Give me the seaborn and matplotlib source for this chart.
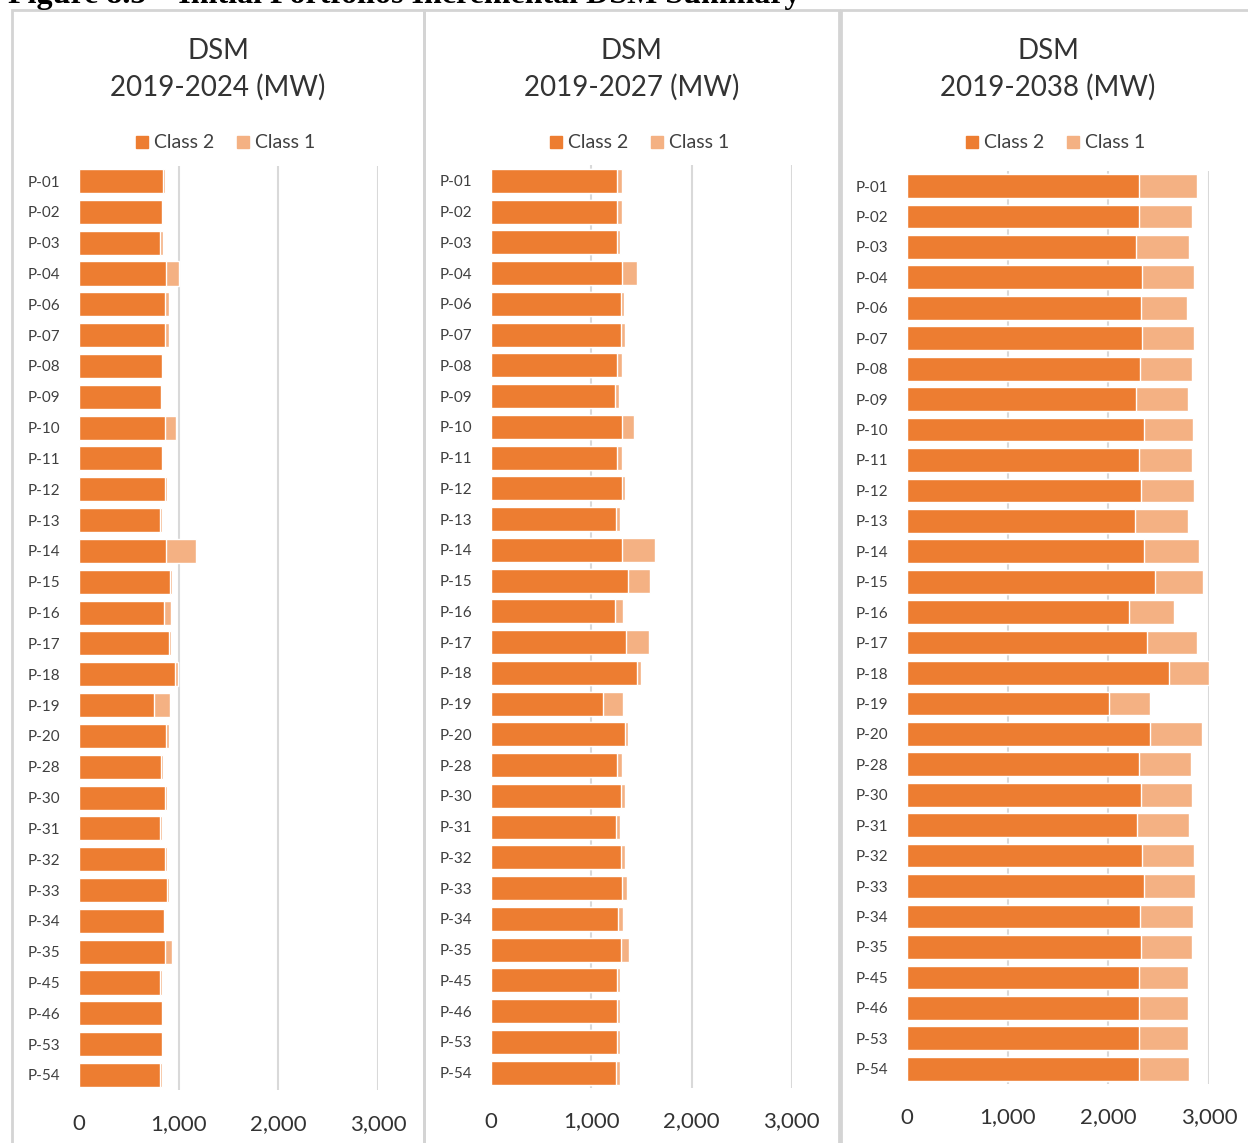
import seaborn as sns
import pandas as pd
import matplotlib.pyplot as plt
import numpy as np
from matplotlib.lines import Line2D
from matplotlib.patches import Rectangle

portfolios = ["P-01", "P-02", "P-03", "P-04", "P-06", "P-07", "P-08", "P-09", "P-10", "P-11",
              "P-12", "P-13", "P-14", "P-15", "P-16", "P-17", "P-18", "P-19", "P-20", "P-28",
              "P-30", "P-31", "P-32", "P-33", "P-34", "P-35", "P-45", "P-46", "P-53", "P-54"]

# 2019-2024
class2_2024 = [845, 833, 813, 870, 863, 856, 830, 816, 856, 830, 863, 813, 870, 913, 846,
               896, 963, 755, 870, 823, 863, 813, 863, 880, 846, 856, 813, 830, 830, 813]
class1_2024 = [11, 7, 30, 127, 33, 40, 13, 14, 111, 13, 13, 17, 305, 17, 74,
               20, 24, 151, 26, 20, 13, 13, 17, 16, 17, 77, 17, 13, 13, 17]
# 2019-2027
class2_2027 = [1257, 1257, 1260, 1303, 1297, 1293, 1260, 1233, 1303, 1260, 1307, 1247, 1303, 1367, 1233,
               1343, 1460, 1117, 1333, 1260, 1293, 1243, 1297, 1307, 1267, 1293, 1260, 1260, 1260, 1243]
class1_2027 = [46, 46, 30, 150, 33, 47, 43, 44, 127, 43, 33, 43, 327, 213, 80,
               227, 33, 196, 34, 43, 47, 47, 43, 46, 50, 87, 30, 30, 30, 47]
# 2019-2038
class2_2038 = [2304, 2304, 2277, 2337, 2324, 2337, 2314, 2277, 2353, 2304, 2324, 2264, 2353, 2463, 2201,
               2386, 2605, 2002, 2413, 2304, 2324, 2287, 2337, 2353, 2314, 2324, 2304, 2304, 2304, 2304]
class1_2038 = [573, 523, 524, 514, 454, 514, 513, 514, 484, 523, 527, 527, 551, 480, 451,
               491, 395, 411, 514, 513, 503, 514, 514, 511, 523, 503, 487, 487, 487, 497]

titles = ["DSM\n2019-2024 (MW)", "DSM\n2019-2027 (MW)", "DSM\n2019-2038 (MW)"]
x_ticks = [0, 1000, 2000, 3000]
x_ticklabels = ["0", "1,000", "2,000", "3,000"]

dark = "#ED7D31"
light = "#F4B183"
W, H = 1248, 1143

sns.set_theme(style="white")
plt.rcParams['font.family'] = ['Lato', 'DejaVu Sans']

fig = plt.figure(figsize=(W / 100, H / 100), dpi=100)

# figure caption, cut off at the top edge
fig.text(800 / W, 1 - 3 / H, "Figure 8.5 \u2013 Initial Portfolios Incremental DSM Summary",
         ha="right", va="baseline", fontsize=23, fontweight="bold",
         family=["Liberation Serif", "DejaVu Serif"], color="black")

# panel frames (pixels: left, right)
frames = [(12, 424), (424, 839), (841, 1260)]
for l, r in frames:
    fig.patches.append(Rectangle((l / W, -0.05), (r - l) / W, 1.05 - 10 / H,
                                 transform=fig.transFigure, fill=False,
                                 edgecolor="#d4d4d4", linewidth=2))

# axes boxes in pixels: left, right(3000), top, bottom
boxes = [(79.3, 378.0, 165.6, 1090.4),
         (491.3, 791.7, 165.4, 1087.9),
         (907.3, 1209.0, 170.8, 1083.9)]
series = [(class2_2024, class1_2024), (class2_2027, class1_2027), (class2_2038, class1_2038)]

for i, ((c2, c1), (xl, xr, yt, yb), title, (fl, fr)) in enumerate(zip(series, boxes, titles, frames)):
    ax = fig.add_axes([xl / W, 1 - yb / H, (xr - xl) / W, (yb - yt) / H])
    df = pd.DataFrame({"Portfolio": portfolios, "Class 2": c2, "Class 1": c1})
    df["Total"] = df["Class 2"] + df["Class 1"]
    sns.barplot(data=df, x="Total", y="Portfolio", color=light, orient="h",
                width=0.78, saturation=1, ax=ax)
    sns.barplot(data=df, x="Class 2", y="Portfolio", color=dark, orient="h",
                width=0.78, saturation=1, ax=ax)
    ax.set_xlim(0, 3000)
    ax.set_ylim(len(portfolios) - 0.5, -0.5)
    ax.set_xticks(x_ticks)
    ax.set_xticklabels(x_ticklabels, fontsize=16, color="#333333")
    ax.tick_params(axis="x", length=0, pad=17)
    ax.tick_params(axis="y", length=0, pad=13.5, labelsize=11, labelcolor="#404040")
    ax.set_xlabel("")
    ax.set_ylabel("")
    for s in ax.spines.values():
        s.set_visible(False)
    ax.set_axisbelow(True)
    ax.grid(axis="x", color="#d9d9d9", linewidth=1.5)
    ax.grid(axis="y", visible=False)
    ax.xaxis.get_gridlines()[0].set_visible(False)

    cx = (fl + min(fr, W + 2)) / 2 / W
    if i == 2:
        cx = 1048 / W
    fig.text(cx, 1 - 69 / H, title, ha="center", va="center", fontsize=20,
             color="#333333", linespacing=1.45)
    handles = [Line2D([], [], marker="s", linestyle="none", markersize=9, color=dark),
               Line2D([], [], marker="s", linestyle="none", markersize=9, color=light)]
    ax.legend(handles, ["Class 2", "Class 1"], loc="center", ncol=2, frameon=False,
              bbox_to_anchor=(cx + 6 / W, 1 - 143 / H), bbox_transform=fig.transFigure,
              fontsize=14, handletextpad=0.1, columnspacing=1.0, handlelength=1.0,
              labelcolor="#404040")

plt.savefig("out.png", dpi=100)
